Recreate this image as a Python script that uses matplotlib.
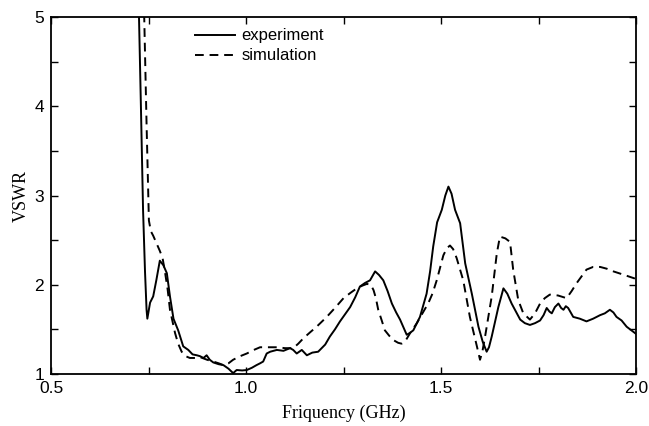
import matplotlib
matplotlib.use('Agg')
import matplotlib.pyplot as plt
from matplotlib.ticker import MultipleLocator

# experiment curve
exp_f = [0.724, 0.7256, 0.731, 0.736, 0.741, 0.745, 0.747, 0.754, 0.762, 0.770, 0.779,
         0.788, 0.797, 0.805, 0.814, 0.826, 0.839, 0.852, 0.863, 0.874, 0.882,
         0.891, 0.899, 0.907, 0.916, 0.930, 0.942, 0.955, 0.967, 0.976, 0.990,
         1.002, 1.015, 1.027, 1.036, 1.044, 1.053, 1.062, 1.079, 1.096, 1.113,
         1.121, 1.130, 1.143, 1.156, 1.170, 1.185, 1.203, 1.215, 1.228, 1.241,
         1.254, 1.267, 1.280, 1.292, 1.305, 1.318, 1.331, 1.341, 1.352, 1.363,
         1.374, 1.385, 1.395, 1.404, 1.412, 1.420, 1.429, 1.446, 1.463, 1.472,
         1.480, 1.490, 1.502, 1.511, 1.519, 1.527, 1.536, 1.549, 1.562, 1.579,
         1.596, 1.607, 1.617, 1.623, 1.630, 1.647, 1.660, 1.670, 1.681, 1.692,
         1.703, 1.715, 1.728, 1.741, 1.754, 1.763, 1.771, 1.778, 1.784, 1.792,
         1.801, 1.808, 1.814, 1.820, 1.826, 1.839, 1.856, 1.873, 1.890, 1.908,
         1.920, 1.933, 1.942, 1.950, 1.963, 1.976, 1.988, 1.997, 2.0]
exp_v = [5.3, 5.0, 3.9, 2.84, 2.15, 1.72, 1.62, 1.80, 1.87, 2.05, 2.27,
         2.22, 2.13, 1.87, 1.62, 1.49, 1.31, 1.27, 1.22, 1.21, 1.20,
         1.18, 1.21, 1.16, 1.13, 1.11, 1.10, 1.06, 1.01, 1.045, 1.04,
         1.045, 1.07, 1.10, 1.12, 1.14, 1.23, 1.25, 1.27, 1.26, 1.29,
         1.27, 1.23, 1.27, 1.21, 1.24, 1.25, 1.33, 1.42, 1.50, 1.59,
         1.67, 1.75, 1.86, 1.98, 2.02, 2.05, 2.15, 2.11, 2.05, 1.93,
         1.79, 1.69, 1.61, 1.52, 1.44, 1.46, 1.49, 1.64, 1.90, 2.15,
         2.43, 2.70, 2.84, 3.00, 3.10, 3.02, 2.84, 2.69, 2.24, 1.90,
         1.53, 1.36, 1.25, 1.30, 1.42, 1.75, 1.96, 1.90, 1.79, 1.70,
         1.61, 1.57, 1.55, 1.57, 1.60, 1.66, 1.74, 1.70, 1.68, 1.75,
         1.79, 1.74, 1.72, 1.76, 1.74, 1.64, 1.62, 1.59, 1.62, 1.66,
         1.68, 1.72, 1.69, 1.64, 1.60, 1.53, 1.49, 1.46, 1.45]

# simulation curve
sim_f = [0.737, 0.739, 0.745, 0.751, 0.756, 0.762, 0.770, 0.779, 0.786, 0.792,
         0.799, 0.805, 0.812, 0.818, 0.826, 0.835, 0.845, 0.856, 0.870, 0.882,
         0.900, 0.916, 0.930, 0.942, 0.955, 0.967, 0.985, 1.002, 1.020, 1.036,
         1.053, 1.079, 1.100, 1.121, 1.134, 1.147, 1.165, 1.181, 1.207, 1.230,
         1.250, 1.268, 1.284, 1.298, 1.310, 1.320, 1.327, 1.333, 1.339, 1.348,
         1.356, 1.367, 1.378, 1.390, 1.399, 1.410, 1.421, 1.438, 1.455, 1.467,
         1.478, 1.489, 1.506, 1.515, 1.523, 1.531, 1.540, 1.557, 1.574, 1.592,
         1.600, 1.606, 1.613, 1.630, 1.643, 1.651, 1.665, 1.677, 1.685, 1.698,
         1.711, 1.728, 1.741, 1.754, 1.766, 1.779, 1.800, 1.822, 1.835, 1.848,
         1.873, 1.890, 1.908, 1.925, 1.942, 1.970, 1.997, 2.0]
sim_v = [5.3, 5.0, 3.8, 2.72, 2.60, 2.55, 2.47, 2.38, 2.30, 2.15,
         1.95, 1.72, 1.58, 1.46, 1.34, 1.25, 1.20, 1.18, 1.18, 1.19,
         1.16, 1.14, 1.12, 1.10, 1.12, 1.16, 1.20, 1.23, 1.27, 1.30,
         1.30, 1.30, 1.29, 1.29, 1.34, 1.40, 1.47, 1.53, 1.64, 1.75,
         1.85, 1.91, 1.96, 1.99, 2.01, 2.00, 1.94, 1.85, 1.72, 1.60,
         1.49, 1.43, 1.38, 1.35, 1.34, 1.38, 1.46, 1.57, 1.70, 1.79,
         1.90, 2.05, 2.33, 2.41, 2.44, 2.40, 2.30, 2.05, 1.64, 1.31,
         1.16, 1.25, 1.42, 1.87, 2.35, 2.54, 2.52, 2.48, 2.17, 1.83,
         1.68, 1.61, 1.68, 1.79, 1.85, 1.89, 1.88, 1.85, 1.93, 2.02,
         2.17, 2.20, 2.20, 2.18, 2.15, 2.11, 2.07, 2.06]

fig = plt.figure(figsize=(6.49, 4.26), dpi=100)
ax = fig.add_axes([0.0786, 0.122, 0.9014, 0.838])

ax.plot(exp_f, exp_v, color='black', lw=1.4, label='experiment')
ax.plot(sim_f, sim_v, color='black', lw=1.4, ls=(0, (4.5, 3)), label='simulation')

ax.set_xlim(0.5, 2.0)
ax.set_ylim(1, 5)
ax.xaxis.set_major_locator(MultipleLocator(0.5))
ax.xaxis.set_minor_locator(MultipleLocator(0.25))
ax.yaxis.set_major_locator(MultipleLocator(1))
ax.yaxis.set_minor_locator(MultipleLocator(0.5))
ax.xaxis.set_major_formatter(plt.FormatStrFormatter('%.1f'))
ax.tick_params(which='both', direction='in', top=True, right=True, length=5, width=1)
ax.tick_params(which='major', labelsize=12.5, pad=5)
for lab in ax.get_xticklabels() + ax.get_yticklabels():
    lab.set_family('Liberation Sans')
for s in ax.spines.values():
    s.set_linewidth(1.3)

ax.set_xlabel('Friquency (GHz)', family='Liberation Serif', fontsize=13, labelpad=6)
ax.set_ylabel('VSWR', family='Liberation Serif', fontsize=13, labelpad=3)

leg = ax.legend(loc='upper left', bbox_to_anchor=(0.22, 1.01), frameon=False,
                prop={'family': 'Liberation Sans', 'size': 12},
                handlelength=2.4, handletextpad=0.4, labelspacing=0.3)

fig.savefig('out.png', dpi=100)
